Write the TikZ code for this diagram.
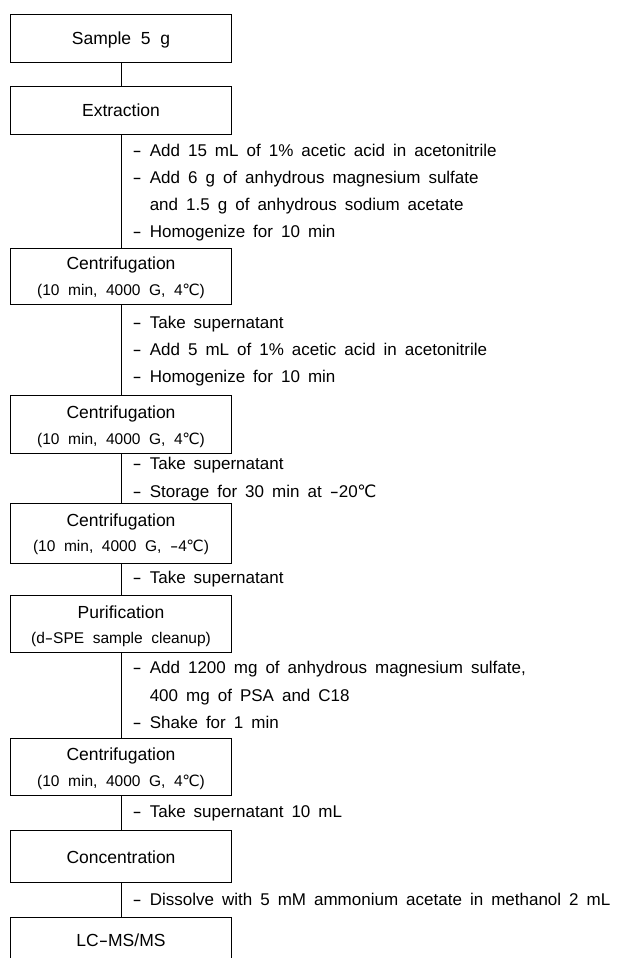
\documentclass[tikz,border=0pt]{standalone}
\usepackage{graphicx}
\usepackage{fontspec}
\setmainfont{Liberation Sans}[WordSpace={2}]
\newfontfamily\stepfont{Liberation Sans}[WordSpace={1.7}]
\newfontfamily\dvfont{DejaVu Sans}
\newcommand{\degC}{{\dvfont\kern-0.5pt ℃}}
\newcommand{\hy}{\scalebox{1.6}[1]{-}}
\tikzset{
  box/.style={draw, line width=1bp, minimum width=220bp, inner sep=0pt, outer sep=0pt},
  ttl/.style={anchor=base, inner sep=0pt, font=\fontsize{17.5bp}{21bp}\selectfont},
  sub/.style={anchor=base, inner sep=0pt, font=\fontsize{15.5bp}{19bp}\selectfont},
  stepline/.style={anchor=base west, inner sep=0pt, font=\stepfont\fontsize{17bp}{20bp}\selectfont},
  link/.style={line width=1bp}
}
\begin{document}
\begin{tikzpicture}[x=1bp,y=-1bp]
\useasboundingbox (0,0) rectangle (617,958);
\fill[white] (0,0) rectangle (617,958);
\begin{scope}
\clip (0,0) rectangle (617,958);
% boxes
\node[box, minimum height=48bp] (b1) at (121,38) {};
\node[box, minimum height=48bp] (b2) at (121,110) {};
\node[box, minimum height=56bp] (b3) at (121,276) {};
\node[box, minimum height=58bp] (b4) at (121,424) {};
\node[box, minimum height=60bp] (b5) at (121,533) {};
\node[box, minimum height=57bp] (b6) at (121,623.5) {};
\node[box, minimum height=57bp] (b7) at (121,766.5) {};
\node[box, minimum height=52bp] (b8) at (121,856) {};
\node[box, minimum height=48bp] (b9) at (121,941) {};
% connectors
\draw[link] (b1.south) -- (b2.north);
\draw[link] (b2.south) -- (b3.north);
\draw[link] (b3.south) -- (b4.north);
\draw[link] (b4.south) -- (b5.north);
\draw[link] (b5.south) -- (b6.north);
\draw[link] (b6.south) -- (b7.north);
\draw[link] (b7.south) -- (b8.north);
\draw[link] (b8.south) -- (b9.north);
\end{scope}
% box texts
\node[ttl] (t1) at (121,44) {Sample 5 g};
\node[ttl] (t2) at (121,116) {Extraction};
\node[ttl] (t3) at (121,269) {Centrifugation};
\node[sub] (u3) at (121,295.5) {(10 min, 4000 G, 4\degC)};
\node[ttl] (t4) at (121,418) {Centrifugation};
\node[sub] (u4) at (121,444.5) {(10 min, 4000 G, 4\degC)};
\node[ttl] (t5) at (121,526) {Centrifugation};
\node[sub] (u5) at (121,551.5) {(10 min, 4000 G, \hy4\degC)};
\node[ttl] (t6) at (121,618) {Purification};
\node[sub] (u6) at (121,643.5) {(d\hy SPE sample cleanup)};
\node[ttl] (t7) at (121,760) {Centrifugation};
\node[sub] (u7) at (121,786.5) {(10 min, 4000 G, 4\degC)};
\node[ttl] (t8) at (121,863) {Concentration};
\node[ttl] (t9) at (121,946) {LC\hy MS/MS};
% step texts
\node[stepline] (s1a) at (132.5,156.5) {\hy\ Add 15 mL of 1\% acetic acid in acetonitrile};
\node[stepline] (s1b) at (132.5,183.5) {\hy\ Add 6 g of anhydrous magnesium sulfate};
\node[stepline] (s1c) at (132.5,210.5) {\hphantom{\hy\ }and 1.5 g of anhydrous sodium acetate};
\node[stepline] (s1d) at (132.5,237.5) {\hy\ Homogenize for 10 min};
\node[stepline] (s2a) at (132.5,328.5) {\hy\ Take supernatant};
\node[stepline] (s2b) at (132.5,355.5) {\hy\ Add 5 mL of 1\% acetic acid in acetonitrile};
\node[stepline] (s2c) at (132.5,382.5) {\hy\ Homogenize for 10 min};
\node[stepline] (s3a) at (132.5,469.5) {\hy\ Take supernatant};
\node[stepline] (s3b) at (132.5,497.5) {\hy\ Storage for 30 min at \hy20\degC};
\node[stepline] (s4a) at (132.5,583.5) {\hy\ Take supernatant};
\node[stepline] (s5a) at (132.5,673.5) {\hy\ Add 1200 mg of anhydrous magnesium sulfate,};
\node[stepline] (s5b) at (132.5,701.5) {\hphantom{\hy\ }400 mg of PSA and C18};
\node[stepline] (s5c) at (132.5,728.5) {\hy\ Shake for 1 min};
\node[stepline] (s6a) at (132.5,817.5) {\hy\ Take supernatant 10 mL};
\node[stepline] (s7a) at (132.5,905.5) {\hy\ Dissolve with 5 mM ammonium acetate in methanol 2 mL};
\end{tikzpicture}
\end{document}
